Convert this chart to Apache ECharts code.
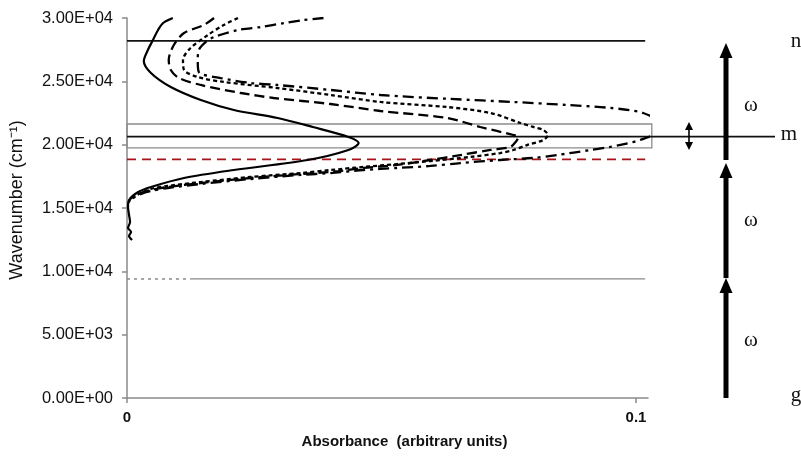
<!DOCTYPE html>
<html>
<head>
<meta charset="utf-8">
<script src="https://cdn.jsdelivr.net/npm/echarts@6/dist/echarts.min.js"></script>
<style>
  html, body { margin: 0; padding: 0; background: #fff; }
  #chart { width: 801px; height: 458px; }
</style>
</head>
<body>
<div id="chart"></div>
<script>
// Absorbance spectra, each point is [absorbance, wavenumber in cm-1]
const spectrumSolid = [
  [0.0090, 30000], [0.0071, 29605], [0.0061, 29053], [0.0051, 28263], [0.0041, 27474],
  [0.0033, 26605], [0.0047, 25658], [0.0086, 24553], [0.0145, 23526], [0.0210, 22737],
  [0.0296, 22105], [0.0365, 21395], [0.0435, 20605], [0.0455, 20132], [0.0435, 19579],
  [0.0355, 18789], [0.0210, 18000], [0.0112, 17368], [0.0047, 16658], [0.0022, 16263],
  [0.0004, 15632], [0.0002, 15079], [0.0004, 14450], [0.0006, 13900], [0.0002, 13420],
  [0.0008, 13110], [0.0004, 12790], [0.0010, 12470]
];
const spectrumDashed = [
  [0.0171, 30000], [0.0151, 29447], [0.0112, 28816], [0.0092, 27868], [0.0082, 26684],
  [0.0086, 25895], [0.0102, 25263], [0.0145, 24711], [0.0224, 24079], [0.0288, 23684],
  [0.0400, 23211], [0.0498, 22658], [0.0629, 22105], [0.0694, 21395], [0.0759, 20763],
  [0.0769, 20605], [0.0765, 20290], [0.0753, 19820], [0.0714, 19580], [0.0655, 19180],
  [0.0596, 18790], [0.0531, 18400], [0.0465, 18160], [0.0400, 17840], [0.0341, 17680],
  [0.0243, 17370], [0.0145, 16970], [0.0080, 16660], [0.0047, 16420], [0.0027, 16180],
  [0.0008, 15790], [0.0002, 15240]
];
const spectrumDotted = [
  [0.0218, 30000], [0.0190, 29450], [0.0159, 28660], [0.0125, 27630], [0.0110, 26680],
  [0.0112, 25900], [0.0139, 25340], [0.0190, 24950], [0.0296, 24470], [0.0400, 23920],
  [0.0498, 23370], [0.0629, 22970], [0.0714, 22500], [0.0773, 21710], [0.0798, 21400],
  [0.0818, 21160], [0.0827, 20760], [0.0818, 20370], [0.0786, 19970], [0.0759, 19580],
  [0.0733, 19340], [0.0675, 19030], [0.0596, 18710], [0.0531, 18470], [0.0465, 18240],
  [0.0400, 18000], [0.0341, 17760], [0.0243, 17450], [0.0145, 17050], [0.0080, 16740],
  [0.0047, 16500], [0.0027, 16180], [0.0008, 15790]
];
const spectrumDashDot = [
  [0.0386, 30000], [0.0347, 29840], [0.0308, 29600], [0.0263, 29290], [0.0218, 29050],
  [0.0171, 28500], [0.0155, 28110], [0.0141, 27470], [0.0139, 26680], [0.0141, 25740],
  [0.0184, 25260], [0.0243, 24870], [0.0296, 24710], [0.0400, 24320], [0.0498, 23920],
  [0.0635, 23610], [0.0759, 23370], [0.0865, 23130], [0.0949, 22900], [0.1014, 22500],
  [0.1060, 21400], [0.1008, 20370], [0.0949, 19820], [0.0910, 19580], [0.0845, 19180],
  [0.0798, 18950], [0.0733, 18790], [0.0655, 18550], [0.0596, 18320], [0.0531, 18160],
  [0.0465, 18000], [0.0400, 17760], [0.0341, 17610], [0.0243, 17290], [0.0145, 16900],
  [0.0080, 16580], [0.0047, 16340], [0.0027, 16100], [0.0008, 15710]
];

// Energy levels (cm-1)
const levelN = 28200;
const levelM = 20630;
const levelTwoPhoton = 18840;
const levelOnePhoton = 9400;
const bandEdges = [19740, 21630];

// Axis ticks
const yMin = 0, yMax = 30000, yStep = 5000;
const xTickValues = [0, 0.1];

// Level diagram: photon arrows [from, to], omega label heights, level names
const photonArrows = [[0, 9470], [9470, 18550], [18790, 28030]];
const omegaHeights = [4420, 13820, 22970];
const levelNames = [['n', 27950], ['m', 20630], ['g', 80]];
const bandArrow = [19580, 21790];

function sci(v) {
  if (v === 0) return '0.00E+00';
  const e = Math.floor(Math.log10(Math.abs(v)) + 1e-9);
  const m = v / Math.pow(10, e);
  return m.toFixed(2) + 'E+' + String(e).padStart(2, '0');
}

const chart = echarts.init(document.getElementById('chart'), null, { renderer: 'canvas' });

const xEndLines = 0.1018;   // right end of the level lines in absorbance units
const xEndBox = 0.1031;

function hLine(y, x1, color, width, type) {
  return {
    type: 'line', xAxisIndex: 0, yAxisIndex: 0, silent: true, clip: false,
    symbol: 'none', data: [[0, y], [x1, y]],
    lineStyle: { color: color, width: width, type: type }, z: 1
  };
}

function spectrum(data, dash, width) {
  return {
    type: 'line', xAxisIndex: 0, yAxisIndex: 0, data: data, symbol: 'none',
    smooth: 0.3, clip: true, silent: true,
    lineStyle: { color: '#000', width: width, type: dash }, z: 3
  };
}

const serifFont = '"Liberation Serif", "DejaVu Serif", serif';

const option = {
  animation: false,
  backgroundColor: '#fff',
  grid: [
    { left: 126, top: 18, width: 522, height: 380 },
    { left: 648, top: 18, width: 153, height: 380 }
  ],
  xAxis: [
    {
      gridIndex: 0, type: 'value', min: 0, max: 0.10235,
      splitLine: { show: false },
      axisLine: { lineStyle: { color: '#8a8a8a', width: 1.5 } },
      axisTick: { customValues: xTickValues, length: 5, lineStyle: { color: '#8a8a8a', width: 1.5 } },
      axisLabel: {
        customValues: xTickValues, margin: 12,
        formatter: v => (v === 0 ? '0' : String(v)),
        color: '#111', fontFamily: 'Liberation Sans', fontSize: 15, fontWeight: 'bold'
      },
      name: 'Absorbance  (arbitrary units)', nameLocation: 'middle', nameGap: 36,
      nameTextStyle: { color: '#111', fontFamily: 'Liberation Sans', fontSize: 15, fontWeight: 'bold', padding: [0, 0, 0, 34] }
    },
    { gridIndex: 1, type: 'value', min: 0, max: 153, show: false }
  ],
  yAxis: [
    {
      gridIndex: 0, type: 'value', min: yMin, max: yMax, interval: yStep,
      splitLine: { show: false },
      axisLine: { show: true, lineStyle: { color: '#8a8a8a', width: 1.5 } },
      axisTick: { show: true, length: 5, lineStyle: { color: '#8a8a8a', width: 1.5 } },
      axisLabel: { formatter: sci, margin: 14, color: '#111', fontFamily: 'Liberation Sans', fontSize: 16.5 },
      name: 'Wavenumber (cm\u207B\u00B9)', nameLocation: 'middle', nameGap: 101, nameRotate: 90,
      nameTextStyle: { color: '#111', fontFamily: 'Liberation Sans', fontSize: 18, padding: [0, 0, 0, 16] }
    },
    { gridIndex: 1, type: 'value', min: yMin, max: yMax, show: false }
  ],
  series: [
    // band box around the m level
    {
      type: 'custom', xAxisIndex: 0, yAxisIndex: 0, silent: true, z: 1,
      data: [[0, xEndBox, bandEdges[0], bandEdges[1]]],
      renderItem: (params, api) => {
        const a = api.coord([api.value(0), api.value(3)]);
        const b = api.coord([api.value(1), api.value(2)]);
        return {
          type: 'rect',
          shape: { x: a[0], y: a[1], width: b[0] - a[0], height: b[1] - a[1] },
          style: { fill: 'none', stroke: '#8c8c8c', lineWidth: 1.3 }
        };
      }
    },
    hLine(levelN, xEndLines, '#111', 1.8, 'solid'),
    hLine(levelM, 0.10235, '#111', 1.8, 'solid'),
    hLine(levelTwoPhoton, xEndLines, '#a8141a', 1.6, [9, 6]),
    hLine(levelOnePhoton, 0.0125, '#8a8a8a', 1.4, [3, 4]),
    {
      type: 'line', xAxisIndex: 0, yAxisIndex: 0, silent: true, symbol: 'none', clip: false,
      data: [[0.0125, levelOnePhoton], [xEndLines, levelOnePhoton]],
      lineStyle: { color: '#8a8a8a', width: 1.2 }, z: 1
    },
    spectrum(spectrumSolid, 'solid', 2.2),
    spectrum(spectrumDashed, [10, 5], 2.3),
    spectrum(spectrumDotted, [4, 3], 2.3),
    spectrum(spectrumDashDot, [11, 5, 3, 5], 2.3),
    // m level continued into the diagram
    {
      type: 'line', xAxisIndex: 1, yAxisIndex: 1, silent: true, symbol: 'none', clip: false,
      data: [[0, levelM], [127, levelM]],
      lineStyle: { color: '#111', width: 1.8 }, z: 1
    },
    // photon arrows
    {
      type: 'custom', xAxisIndex: 1, yAxisIndex: 1, silent: true, z: 4,
      data: photonArrows.map(a => [78, a[0], a[1]]),
      renderItem: (params, api) => {
        const p0 = api.coord([api.value(0), api.value(1)]);
        const p1 = api.coord([api.value(0), api.value(2)]);
        const headH = 15, headW = 13, shaftW = 5;
        return {
          type: 'group',
          children: [
            { type: 'rect', shape: { x: p0[0] - shaftW / 2, y: p1[1] + headH - 1, width: shaftW, height: p0[1] - p1[1] - headH + 1 }, style: { fill: '#000' } },
            { type: 'polygon', shape: { points: [[p1[0], p1[1]], [p1[0] - headW / 2, p1[1] + headH], [p1[0] + headW / 2, p1[1] + headH]] }, style: { fill: '#000' } }
          ]
        };
      }
    },
    // double-headed arrow marking the band width
    {
      type: 'custom', xAxisIndex: 1, yAxisIndex: 1, silent: true, z: 4,
      data: [[41, bandArrow[0], bandArrow[1]]],
      renderItem: (params, api) => {
        const lo = api.coord([api.value(0), api.value(1)]);
        const hi = api.coord([api.value(0), api.value(2)]);
        const hh = 8, hw = 8;
        const x = lo[0];
        return {
          type: 'group',
          children: [
            { type: 'line', shape: { x1: x, y1: hi[1] + 2, x2: x, y2: lo[1] - 2 }, style: { stroke: '#000', lineWidth: 1.6 } },
            { type: 'polygon', shape: { points: [[x, hi[1]], [x - hw / 2, hi[1] + hh], [x + hw / 2, hi[1] + hh]] }, style: { fill: '#000' } },
            { type: 'polygon', shape: { points: [[x, lo[1]], [x - hw / 2, lo[1] - hh], [x + hw / 2, lo[1] - hh]] }, style: { fill: '#000' } }
          ]
        };
      }
    },
    // omega labels and level names
    {
      type: 'custom', xAxisIndex: 1, yAxisIndex: 1, silent: true, z: 5,
      data: omegaHeights.map(h => [103, h, '\u03C9']).concat(
        levelNames.map(l => [l[0] === 'm' ? 141 : 148, l[1], l[0]])
      ),
      renderItem: (params, api) => {
        const p = api.coord([api.value(0), api.value(1)]);
        return {
          type: 'text', x: p[0], y: p[1] - 2,
          style: {
            text: api.value(2), fill: '#111', font: '21px ' + serifFont,
            textAlign: 'center', textVerticalAlign: 'middle'
          }
        };
      },
      dimensions: ['x', 'y', { name: 't', type: 'ordinal' }]
    }
  ]
};

chart.setOption(option);
</script>
</body>
</html>
